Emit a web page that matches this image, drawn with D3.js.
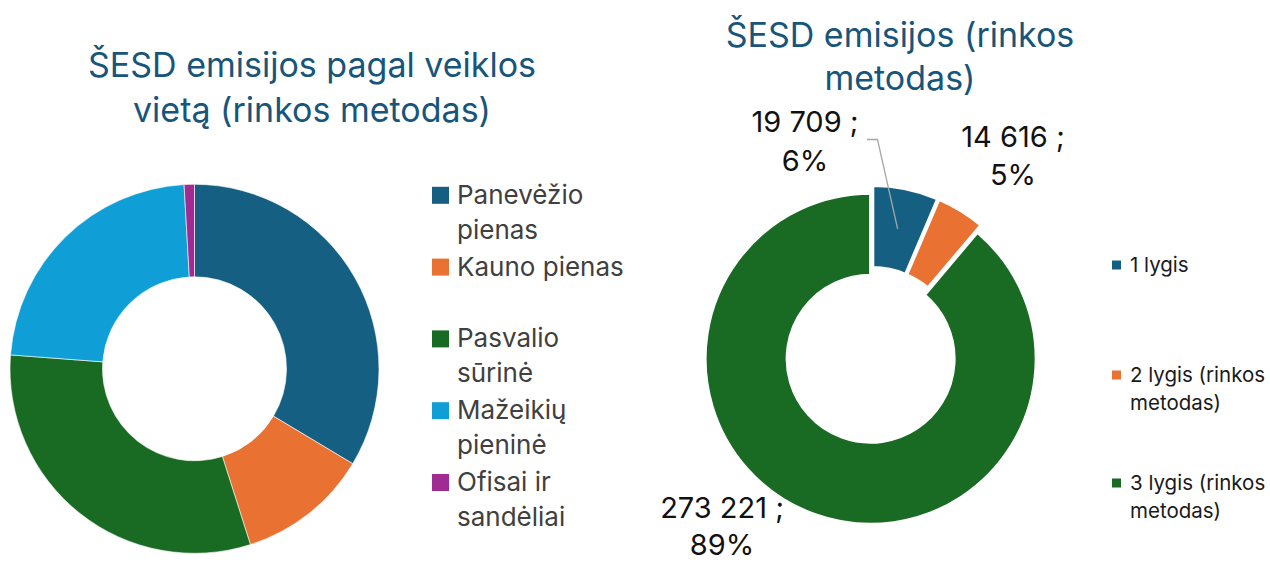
<!DOCTYPE html>
<html>
<head>
<meta charset="utf-8">
<script src="https://cdn.jsdelivr.net/npm/d3@7"></script>
<style>
  html, body { margin: 0; padding: 0; background: #fff; }
  svg { display: block; }
  text { font-family: Inter, "Noto Sans", sans-serif; }
</style>
</head>
<body>
<svg id="chart" width="1270" height="563"></svg>
<script>
// ---- Data ----
const leftTitle = ["ŠESD emisijos pagal veiklos", "vietą (rinkos metodas)"];
const leftCategories = ["Panevėžio pienas", "Kauno pienas", "Pasvalio sūrinė", "Mažeikių pieninė", "Ofisai ir sandėliai"];
const leftLegendLines = [["Panevėžio", "pienas"], ["Kauno pienas"], ["Pasvalio", "sūrinė"], ["Mažeikių", "pieninė"], ["Ofisai ir", "sandėliai"]];
const leftShares = [33.6, 11.5, 31.1, 22.9, 0.9];

const rightTitle = ["ŠESD emisijos (rinkos", "metodas)"];
const rightCategories = ["1 lygis", "2 lygis (rinkos metodas)", "3 lygis (rinkos metodas)"];
const rightLegendLines = [["1 lygis"], ["2 lygis (rinkos", "metodas)"], ["3 lygis (rinkos", "metodas)"]];
const rightValues = [19709, 14616, 273221];

const leftColors = ["#156082", "#E97132", "#196B24", "#0F9ED5", "#A02B93"];
const rightColors = ["#156082", "#E97132", "#196B24"];
const titleColor = "#17557A";

// ---- Setup ----
const svg = d3.select("#chart");

// ---- Left chart ----
const L = { cx: 194.5, cy: 368.8, R: 184.5, r: 92 };
const leftPie = d3.pie().sort(null).value(d => d)(leftShares);
const leftArc = d3.arc().innerRadius(L.r).outerRadius(L.R);
const gL = svg.append("g").attr("transform", `translate(${L.cx},${L.cy})`);
gL.selectAll("path").data(leftPie).join("path")
  .attr("d", leftArc)
  .attr("fill", (d, i) => leftColors[i])
  .attr("stroke", "#fff").attr("stroke-width", 0.6);

svg.append("g").selectAll("text").data(leftTitle).join("text")
  .attr("x", 312).attr("y", (d, i) => 77 + i * 45)
  .attr("text-anchor", "middle")
  .attr("font-size", 34).attr("fill", titleColor)
  .text(d => d);

const legL = svg.append("g");
leftLegendLines.forEach((lines, i) => {
  const yc = 195.3 + i * 71.8;
  legL.append("rect").attr("x", 432).attr("y", yc - 8.5).attr("width", 17).attr("height", 17)
    .attr("fill", leftColors[i]);
  lines.forEach((t, j) => {
    legL.append("text").attr("x", 457).attr("y", yc + 8.5 + j * 35)
      .attr("font-size", 26).attr("fill", "#404040").text(t);
  });
});

// ---- Right chart ----
const Rt = { cx: 872, cy: 355, R: 165.5, r: 83.5, explode: 4 };
const rightTotal = d3.sum(rightValues);
const rightPie = d3.pie().sort(null).value(d => d)(rightValues);
const rightArc = d3.arc().innerRadius(Rt.r).outerRadius(Rt.R);
const gR = svg.append("g").attr("transform", `translate(${Rt.cx},${Rt.cy})`);
function offset(d) {
  const a = (d.startAngle + d.endAngle) / 2;
  return [Math.sin(a) * Rt.explode, -Math.cos(a) * Rt.explode];
}
gR.selectAll("path").data(rightPie).join("path")
  .attr("transform", d => `translate(${offset(d)})`)
  .attr("d", rightArc)
  .attr("fill", (d, i) => rightColors[i])
  .attr("stroke", "#fff").attr("stroke-width", 3).attr("stroke-linejoin", "miter");

svg.append("g").selectAll("text").data(rightTitle).join("text")
  .attr("x", 900).attr("y", (d, i) => 47 + i * 42.6)
  .attr("text-anchor", "middle")
  .attr("font-size", 34).attr("fill", titleColor)
  .text(d => d);

// data labels: positions relative to chart centre (layout only)
const labelPos = [[-67, -223.3, 39.5], [141, -208.3, 38.5], [-150, 163, 37]];
const numFmt = v => d3.format(",")(v).replace(/,/g, " ");
const pctFmt = v => Math.round(v / rightTotal * 100) + "%";
rightPie.forEach((d, i) => {
  const [lx, ly, lh] = labelPos[i];
  const t = gR.append("text").attr("text-anchor", "middle")
    .attr("font-size", 29).attr("fill", "#111");
  t.append("tspan").attr("x", lx).attr("y", ly).text(numFmt(d.data) + " ;");
  t.append("tspan").attr("x", lx).attr("y", ly + lh).text(pctFmt(d.data));
});
// leader line for first slice
{
  const d = rightPie[0];
  const [ox, oy] = offset(d);
  const c = rightArc.centroid(d);
  const ex = c[0] + ox, ey = c[1] + oy;
  const sx = -5, sy = -215.5;
  gR.append("path")
    .attr("d", `M${sx},${sy}H${sx + 10.5}L${ex},${ey}`)
    .attr("fill", "none").attr("stroke", "#A6A6A6").attr("stroke-width", 1.3);
}

const legR = svg.append("g");
const legRY = [265, 375, 483];
rightLegendLines.forEach((lines, i) => {
  const yc = legRY[i];
  legR.append("rect").attr("x", 1112).attr("y", yc - 4.5).attr("width", 9).attr("height", 9)
    .attr("fill", rightColors[i]);
  lines.forEach((t, j) => {
    legR.append("text").attr("x", 1130).attr("y", yc + 6.5 + j * 28.5)
      .attr("font-size", 20.5).attr("fill", "#1a1a1a").text(t);
  });
});
</script>
</body>
</html>
